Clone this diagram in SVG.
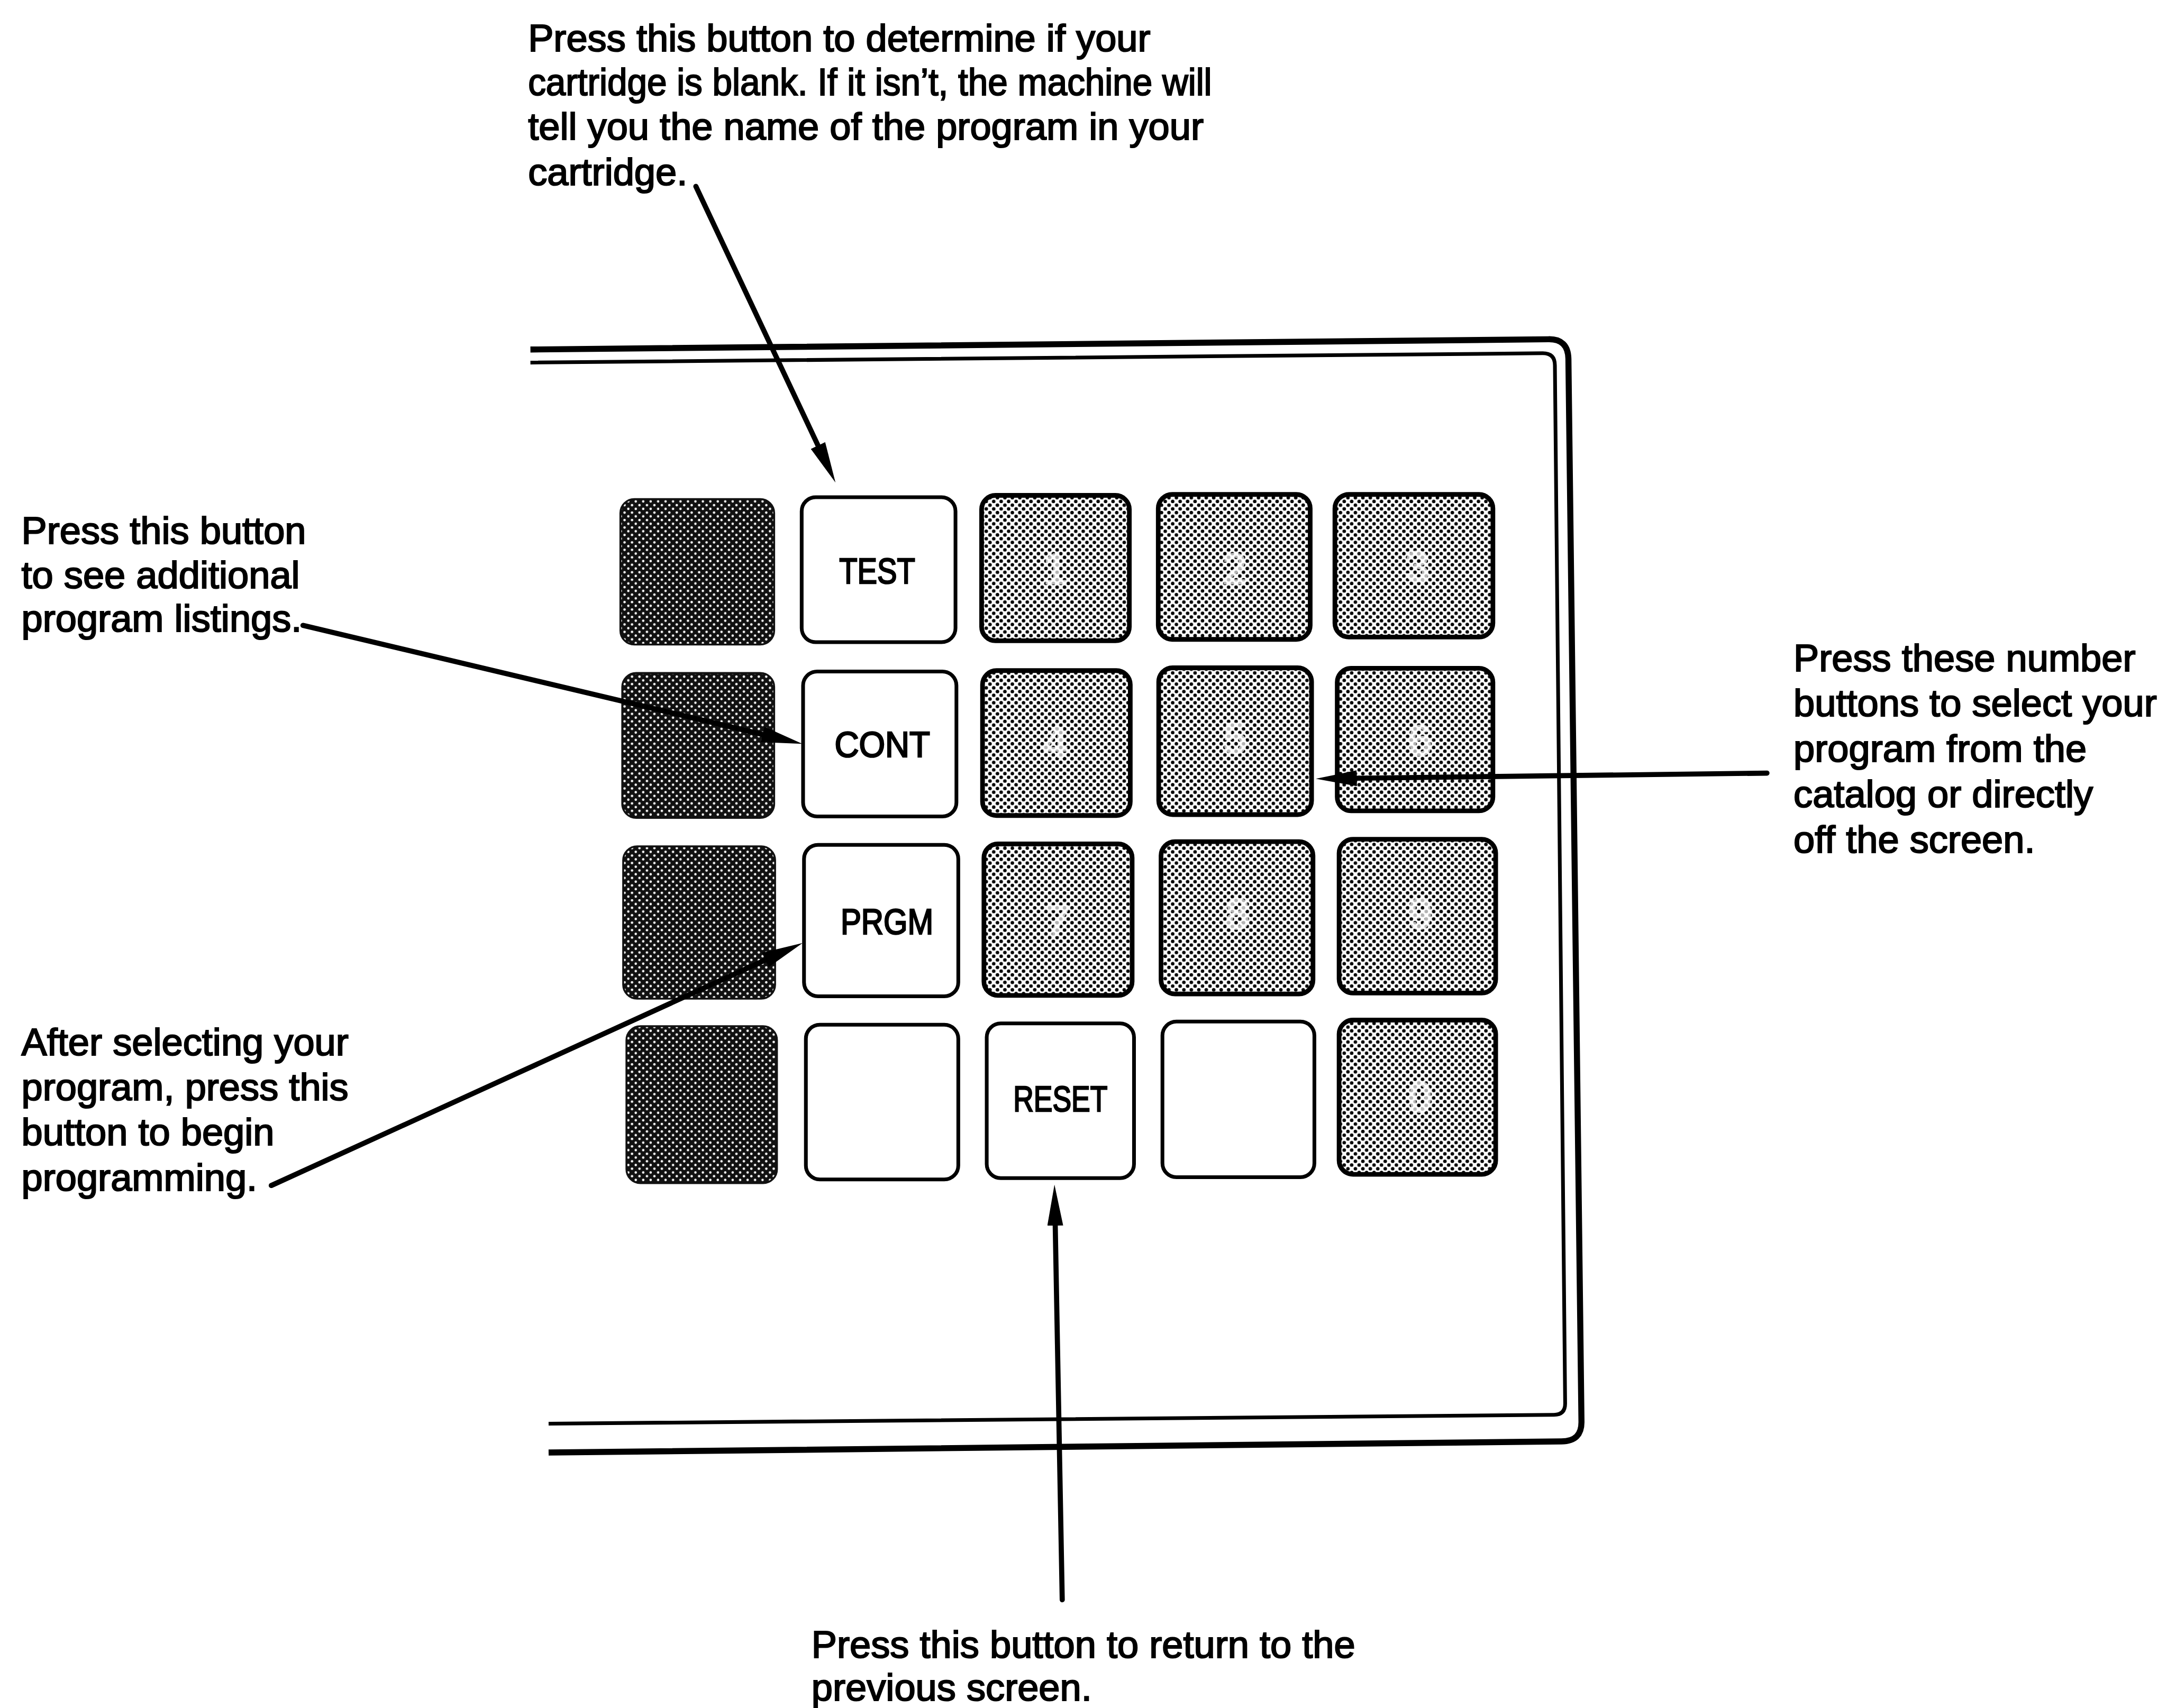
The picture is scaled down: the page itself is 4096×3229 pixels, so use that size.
<svg xmlns="http://www.w3.org/2000/svg" width="4096" height="3229" viewBox="0 0 4096 3229">
<defs>
<style>
.cap{font-family:"Liberation Sans",Arial,sans-serif;font-size:82px;fill:#000;stroke:#000;stroke-width:2.5}
.lbl{font-family:"Liberation Sans",Arial,sans-serif;font-size:78px;fill:#000;stroke:#000;stroke-width:3;text-anchor:middle}
.dig{font-family:"Liberation Sans",Arial,sans-serif;font-size:96px;font-weight:bold;fill:#fff;fill-opacity:0.7;text-anchor:middle}
.wk{fill:#fff;stroke:#000;stroke-width:8}
.nk{fill:url(#lightDots);stroke:#000;stroke-width:10}
.dk{fill:url(#darkDots);stroke:#111;stroke-width:4}
.ln{fill:none;stroke:#000;stroke-width:11;stroke-linecap:round;marker-end:url(#ah)}
</style>
<pattern id="lightDots" width="16" height="16" patternUnits="userSpaceOnUse">
<rect width="16" height="16" fill="#fff"/>
<circle cx="4" cy="4" r="3.8" fill="#000"/>
<circle cx="12" cy="12" r="3.8" fill="#000"/>
</pattern>
<pattern id="darkDots" width="16" height="16" patternUnits="userSpaceOnUse">
<rect width="16" height="16" fill="#111"/>
<circle cx="4" cy="4" r="2.6" fill="#fff"/>
<circle cx="12" cy="12" r="2.6" fill="#fff"/>
</pattern>
<marker id="ah" viewBox="0 0 88 34" refX="0" refY="17" markerWidth="88" markerHeight="34" markerUnits="userSpaceOnUse" orient="auto">
<path d="M0,0 L88,17 L0,34 Z" fill="#000"/>
</marker>
</defs>
<rect width="4096" height="3229" fill="#fff"/>
<g transform="scale(0.881)">
<g id="frame">
<path d="M1138,750 L3322,728 Q3364,727 3365,770 L3393,3050 Q3394,3093 3350,3093 L1177,3117" fill="none" stroke="#000" stroke-width="13"/>
<path d="M1138,778 L3310,758 Q3336,758 3336,784 L3358,3012 Q3358,3036 3334,3036 L1177,3055" fill="none" stroke="#000" stroke-width="8"/>
</g>
<g id="keys">
<g id="key-d0"><rect class="dk" x="1331" y="1071" width="330" height="312" rx="30"/></g>
<g id="key-test"><rect class="wk" x="1720" y="1067" width="330" height="311" rx="30"/><text class="lbl" x="1882" y="1252" textLength="163" lengthAdjust="spacingAndGlyphs">TEST</text></g>
<g id="key-1"><rect class="nk" x="2106" y="1063" width="317" height="312" rx="30"/><text class="dig" x="2264" y="1254">1</text></g>
<g id="key-2"><rect class="nk" x="2485" y="1061" width="326" height="311" rx="30"/><text class="dig" x="2649" y="1254">2</text></g>
<g id="key-3"><rect class="nk" x="2864" y="1061" width="339" height="306" rx="30"/><text class="dig" x="3041" y="1249">3</text></g>

<g id="key-d1"><rect class="dk" x="1335" y="1444" width="326" height="311" rx="30"/></g>
<g id="key-cont"><rect class="wk" x="1723" y="1441" width="329" height="311" rx="30"/><text class="lbl" x="1893" y="1624" textLength="205" lengthAdjust="spacingAndGlyphs">CONT</text></g>
<g id="key-4"><rect class="nk" x="2108" y="1439" width="317" height="311" rx="30"/><text class="dig" x="2264" y="1627">4</text></g>
<g id="key-5"><rect class="nk" x="2486" y="1433" width="328" height="315" rx="30"/><text class="dig" x="2650" y="1617">5</text></g>
<g id="key-6"><rect class="nk" x="2869" y="1434" width="334" height="306" rx="30"/><text class="dig" x="3047" y="1622">6</text></g>

<g id="key-d2"><rect class="dk" x="1337" y="1816" width="326" height="327" rx="30"/></g>
<g id="key-prgm"><rect class="wk" x="1725" y="1813" width="331" height="325" rx="30"/><text class="lbl" x="1903" y="2005" textLength="199" lengthAdjust="spacingAndGlyphs">PRGM</text></g>
<g id="key-7"><rect class="nk" x="2111" y="1811" width="318" height="325" rx="30"/><text class="dig" x="2270" y="2009">7</text></g>
<g id="key-8"><rect class="nk" x="2491" y="1806" width="326" height="327" rx="30"/><text class="dig" x="2655" y="1994">8</text></g>
<g id="key-9"><rect class="nk" x="2873" y="1801" width="336" height="330" rx="30"/><text class="dig" x="3047" y="1994">9</text></g>

<g id="key-d3"><rect class="dk" x="1344" y="2202" width="323" height="337" rx="30"/></g>
<g id="key-blank1"><rect class="wk" x="1729" y="2199" width="327" height="332" rx="30"/></g>
<g id="key-reset"><rect class="wk" x="2117" y="2196" width="316" height="332" rx="30"/><text class="lbl" x="2275" y="2385" textLength="202" lengthAdjust="spacingAndGlyphs">RESET</text></g>
<g id="key-blank2"><rect class="wk" x="2494" y="2192" width="326" height="334" rx="30"/></g>
<g id="key-0"><rect class="nk" x="2873" y="2189" width="336" height="331" rx="30"/><text class="dig" x="3047" y="2387">0</text></g>
</g>
<g id="connectors">
<path class="ln" d="M1493,400 L1755,956"/>
<path class="ln" d="M650,1342 L1636,1576"/>
<path class="ln" d="M582,2544 L1642,2060"/>
<path class="ln" d="M3791,1659 L2911,1670"/>
<path class="ln" d="M2279,3433 L2264,2630"/>
</g>
<g id="note-test">
<text class="cap" x="1133" y="110">Press this button to determine if your</text>
<text class="cap" x="1133" y="204" textLength="1467" lengthAdjust="spacingAndGlyphs">cartridge is blank. If it isn’t, the machine will</text>
<text class="cap" x="1133" y="300">tell you the name of the program in your</text>
<text class="cap" x="1133" y="397">cartridge.</text>
</g>
<g id="note-cont">
<text class="cap" x="46" y="1167">Press this button</text>
<text class="cap" x="46" y="1262">to see additional</text>
<text class="cap" x="46" y="1355">program listings.</text>
</g>
<g id="note-prgm">
<text class="cap" x="46" y="2264">After selecting your</text>
<text class="cap" x="46" y="2361">program, press this</text>
<text class="cap" x="46" y="2458">button to begin</text>
<text class="cap" x="46" y="2555">programming.</text>
</g>
<g id="note-numbers">
<text class="cap" x="3848" y="1440">Press these number</text>
<text class="cap" x="3848" y="1537">buttons to select your</text>
<text class="cap" x="3848" y="1635">program from the</text>
<text class="cap" x="3848" y="1732">catalog or directly</text>
<text class="cap" x="3848" y="1830">off the screen.</text>
</g>
<g id="note-reset">
<text class="cap" x="1741" y="3557">Press this button to return to the</text>
<text class="cap" x="1741" y="3649">previous screen.</text>
</g>
</g>
</svg>
